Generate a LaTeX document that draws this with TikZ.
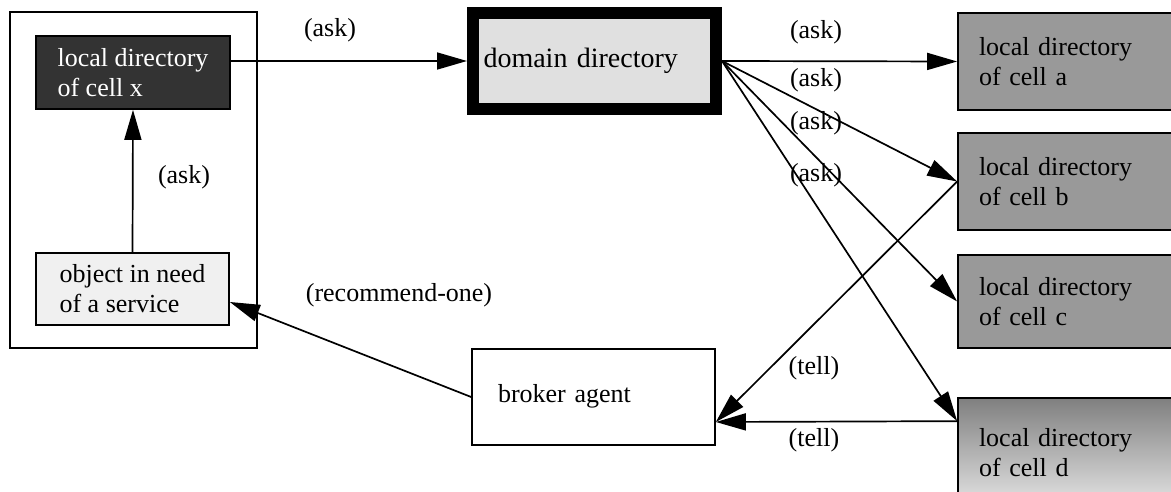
\documentclass[tikz,border=0pt]{standalone}
\usepackage{fontspec}
\setmainfont{Liberation Serif}
\usetikzlibrary{arrows.meta,calc}
\begin{document}
\begin{tikzpicture}[x=1pt,y=-1pt,
  font=\fontsize{26}{30}\selectfont,
  every node/.style={inner sep=0pt},
  box/.style={draw, line width=1.7pt, rectangle, inner sep=0pt},
  ldir/.style={box, fill=black!40, minimum width=222pt, text width=180pt, align=left},
  arr/.style={line width=1.7pt, -{Triangle[length=30pt,width=17pt]}},
  lbl/.style={inner sep=0pt}
]
\useasboundingbox (0,0) rectangle (1171,492);
% cell x
\node[box, minimum width=247pt, minimum height=336pt] (cell) at (133.5,180) {};
\node[box, fill=black!80, text=white, align=left, minimum width=194pt, minimum height=73pt] (lx) at (133,72.5) {local directory\\of cell x};
\node[box, fill=black!6, align=left, minimum width=193pt, minimum height=72pt] (obj) at (132.5,289) {object in need\\of a service};
% domain
\node[draw, line width=12pt, fill=black!12, minimum width=243pt, minimum height=96pt, text width=222pt, align=left, font=\fontsize{28}{32}\selectfont] (dom) at (594.5,61) {\raisebox{4pt}{domain directory}};
% broker
\node[box, minimum width=243pt, minimum height=96pt, text width=191pt, align=left] (br) at (593.5,397) {\raisebox{8pt}{broker agent}};
% other cells
\node[ldir, minimum height=97pt] (la) at (1069,61.5) {local directory\\of cell a};
\node[ldir, minimum height=97pt] (lb) at (1069,181.5) {local directory\\of cell b};
\node[ldir, minimum height=93pt] (lc) at (1069,301.5) {local directory\\of cell c};
\node[box, top color=black!50, bottom color=black!10, minimum width=222pt, text width=180pt, align=left, minimum height=110pt] (ld) at (1069,453) {local directory\\of cell d};
% coordinates
\coordinate (dpt) at ([yshift=-24pt]ld.north west);
\coordinate (bpt) at ([yshift=-25pt]br.east);
% connectors
\draw[arr] (obj.north) -- (lx.south);
\draw[arr] (lx.east |- dom.west) -- (dom.west);
\draw[arr] (dom.east) -- (la.west);
\draw[arr] (dom.east) -- (lb.west);
\draw[arr] (dom.east) -- (lc.west);
\draw[arr] (dom.east) -- (dpt);
\draw[arr] (br.west) -- ([yshift=-13pt]obj.east);
\draw[arr] (lb.west) -- (bpt);
\draw[arr] (dpt) -- (bpt);
% labels
\node[lbl] (l1) at (330,30) {(ask)};
\node[lbl] (l2) at (184,177) {(ask)};
\node[lbl] (l3) at (816,32) {(ask)};
\node[lbl] (l4) at (816,80) {(ask)};
\node[lbl] (l5) at (816,123) {(ask)};
\node[lbl] (l6) at (816,175) {(ask)};
\node[lbl] (l7) at (399,295) {(recommend-one)};
\node[lbl] (l8) at (814,368) {(tell)};
\node[lbl] (l9) at (814,440) {(tell)};
\end{tikzpicture}
\end{document}
